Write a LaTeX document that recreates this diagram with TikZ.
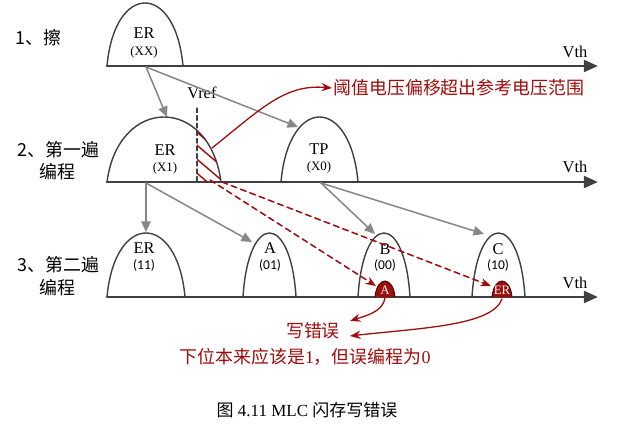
\documentclass[tikz,border=0pt]{standalone}
\usepackage{fontspec}
\setmainfont{Liberation Serif}
\newfontfamily\cjk{Noto Sans CJK SC}
\newfontfamily\carlito{Carlito}
\usetikzlibrary{arrows.meta}
\definecolor{axisgray}{RGB}{64,64,64}
\definecolor{arrowgray}{RGB}{135,135,135}
\definecolor{errred}{RGB}{160,12,12}
% hump: left, right, top, base
\newcommand\hump[5][hump]{\draw[#1] (#2,#5) .. controls ({#2+0.1*(#3-#2)},{#5-(#5-#4)/0.75}) and ({#3-0.1*(#3-#2)},{#5-(#5-#4)/0.75}) .. (#3,#5);}
\begin{document}
\begin{tikzpicture}[x=0.03cm,y=-0.03cm,line join=round,line cap=round]
\tikzset{hump/.style={draw=axisgray,line width=1.2pt},
blob/.style={draw=black!60!errred,fill=errred,line width=0.8pt},
axis/.style={draw=axisgray,line width=2.4pt,-{Triangle[length=12pt,width=10pt]}},
grayarrow/.style={draw=arrowgray,line width=1.3pt,-{Triangle[length=9pt,width=8pt]}},
redarrow/.style={draw=errred,line width=1.1pt,-{Stealth[length=9pt,width=7pt]}},
reddash/.style={redarrow,line width=1.3pt,dash pattern=on 5pt off 3.5pt},
lbl/.style={font=\fontsize{14}{16}\selectfont,inner sep=1pt},
code/.style={font=\fontsize{11}{13}\selectfont,inner sep=1pt},
ccode/.style={font=\carlito\fontsize{11.5}{13}\selectfont,inner sep=1pt},
cn/.style={font=\cjk\fontsize{15.3}{18}\selectfont,inner sep=1pt},
redcn/.style={cn,text=errred}}
\useasboundingbox (0,0) rectangle (626,423);
% row labels
\node[cn,anchor=west] (row1) at (14,38) {1\cjk 、擦};
\node[cn,anchor=west] (row2) at (16,150) {2\cjk 、第一遍};
\node[cn] (row2b) at (57,172) {编程};
\node[cn,anchor=west] (row3) at (16,265) {3\cjk 、第二遍};
\node[cn] (row3b) at (57,288) {编程};
% axes
\draw[axis] (107,66) -- (598,66);
\draw[axis] (107,182) -- (598,182);
\draw[axis] (107,297) -- (598,297);
\node[lbl] (vth1) at (575,52) {Vth};
\node[lbl] (vth2) at (575,167) {Vth};
\node[lbl] (vth3) at (575,283) {Vth};
% humps
\hump{107}{183}{3}{66}
\hump{107}{221}{117}{182}
\hump{281}{358}{117}{182}
\hump{107}{185}{233}{297}
\hump{243}{296}{233}{297}
\hump{358}{410}{233}{297}
\hump{472}{525}{233}{297}
\hump[blob]{375}{395}{281}{297}
\hump[blob]{492}{512}{281}{297}
% state labels
\node[lbl] (er1) at (144,33) {ER};
\node[code] (xx) at (144,52) {(XX)};
\node[lbl] (er2) at (165,150) {ER};
\node[code] (x1) at (165,168) {(X1)};
\node[lbl] (tp) at (319,149) {TP};
\node[code] (x0) at (319,167) {(X0)};
\node[lbl] (er3) at (144,248) {ER};
\node[ccode] (c11) at (144,266) {(11)};
\node[lbl] (sa) at (270,248) {A};
\node[ccode] (c01) at (270,266) {(01)};
\node[lbl] (sb) at (385,249) {B};
\node[ccode] (c00) at (385,266) {(00)};
\node[lbl] (sc) at (498,249) {C};
\node[ccode] (c10) at (498,266) {(10)};
\node[code,text=white] (ablob) at (385,290) {A};
\node[code,text=white] (erblob) at (502,290) {ER};
% Vref and hatch
\node[lbl,anchor=west] (vref) at (186,93) {Vref};
\draw[axisgray,line width=1pt,dash pattern=on 4pt off 2.5pt] (197,108) -- (197,182);
\begin{scope}
\clip (197,100) rectangle (240,182);
\clip (107,182) .. controls (118.4,95.3) and (209.6,95.3) .. (221,182) -- cycle;
\foreach \y in {128,141,155,169}
  \draw[errred,line width=1.2pt] (192,\y) -- (232,{\y+34});
\end{scope}
% connectors
\coordinate (e1b) at (146,67);
\coordinate (e2in) at (167,117);
\coordinate (tpin) at (298,127);
\coordinate (e2b) at (146,183);
\coordinate (e3in) at (146,232);
\coordinate (ain) at (252,242);
\coordinate (tpb) at (321,183);
\coordinate (bin) at (375,234);
\coordinate (cin) at (484,234);
\draw[grayarrow] (e1b) -- (e2in);
\draw[grayarrow] (e1b) -- (tpin);
\draw[grayarrow] (e2b) -- (e3in);
\draw[grayarrow] (e2b) -- (ain);
\draw[grayarrow] (tpb) -- (bin);
\draw[grayarrow] (tpb) -- (cin);
\coordinate (hatch) at (212,148);
\coordinate (hbot1) at (210,180);
\coordinate (hbot2) at (222,182);
\node[redcn,anchor=west] (shift) at (332,88) {阈值电压偏移超出参考电压范围};
\draw[redarrow] (hatch) .. controls (262,108) and (285,84) .. (shift.west);
\draw[reddash] (hbot1) -- (376,286);
\draw[reddash] (hbot2) -- (491,286);
\node[redcn] (werr) at (313,331) {写错误};
\node[redcn] (why) at (305,357) {下位本来应该是\rmfamily 1\cjk ，但误编程为\rmfamily 0};
\coordinate (w1) at (350,321);
\coordinate (w2) at (350,336);
\draw[redarrow] (385,298) .. controls (383,312) and (365,316) .. (w1);
\draw[redarrow] (502,299) .. controls (492,326) and (420,328) .. (w2);
% caption
\node[font=\fontsize{14.5}{17}\selectfont] (cap) at (307,410) {{\cjk 图} 4.11 MLC {\cjk 闪存写错误}};
\end{tikzpicture}
\end{document}
